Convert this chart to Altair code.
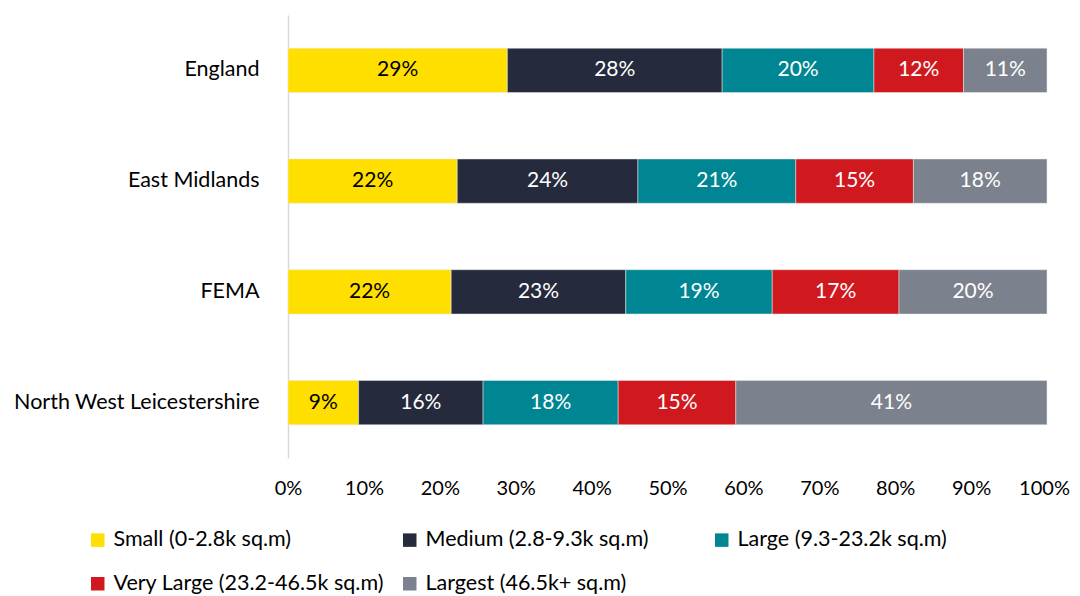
import altair as alt
import pandas as pd

regions = ["England", "East Midlands", "FEMA", "North West Leicestershire"]
sizes = [
    "Small (0-2.8k sq.m)",
    "Medium (2.8-9.3k sq.m)",
    "Large (9.3-23.2k sq.m)",
    "Very Large (23.2-46.5k sq.m)",
    "Largest (46.5k+ sq.m)",
]
colors = ["#FFDF00", "#262A3D", "#008693", "#D0191F", "#7C828D"]

# estimated segment shares (%) per region
small = [28.9, 22.3, 21.5, 9.3]
medium = [28.3, 23.8, 23.0, 16.4]
large = [20.0, 20.8, 19.3, 17.8]
very_large = [11.8, 15.5, 16.7, 15.5]
largest = [11.0, 17.6, 19.5, 41.0]

# printed labels (%)
small_lbl = [29, 22, 22, 9]
medium_lbl = [28, 24, 23, 16]
large_lbl = [20, 21, 19, 18]
very_large_lbl = [12, 15, 17, 15]
largest_lbl = [11, 18, 20, 41]

series = [small, medium, large, very_large, largest]
labels = [small_lbl, medium_lbl, large_lbl, very_large_lbl, largest_lbl]

rows = []
for si, (s, vals, lbls) in enumerate(zip(sizes, series, labels)):
    for r, v, l in zip(regions, vals, lbls):
        rows.append({"region": r, "size": s, "idx": si, "value": v, "label": f"{l}%"})
df = pd.DataFrame(rows)

FONT = "Lato"
FS = 21.5

y_enc = alt.Y(
    "region:N",
    sort=regions,
    title=None,
    scale=alt.Scale(paddingInner=0.6, paddingOuter=0.3),
    axis=alt.Axis(
        ticks=False,
        domainColor="#D9D9D9",
        domainWidth=1.5,
        labelFont=FONT,
        labelFontSize=FS,
        labelFontWeight="normal",
        labelColor="#000000",
        labelPadding=29,
        labelLimit=0,
        minExtent=280,
        maxExtent=280,
    ),
)

bars = alt.Chart(df).mark_bar(stroke="#E8E8E8", strokeWidth=0.5).encode(
    x=alt.X(
        "value:Q",
        stack="zero",
        scale=alt.Scale(domain=[0, 100], nice=False),
        title=None,
        axis=alt.Axis(
            values=list(range(0, 101, 10)),
            labelExpr="datum.value + '%'",
            grid=False,
            ticks=False,
            domain=False,
            labelFlush=False,
            labelOverlap=False,
            labelFont=FONT,
            labelFontSize=20,
            labelColor="#000000",
            labelPadding=20,
            labelOffset={"condition": {"test": "datum.value == 100", "value": -3}, "value": 0},
        ),
    ),
    y=y_enc,
    color=alt.Color(
        "size:N",
        sort=sizes,
        scale=alt.Scale(domain=sizes, range=colors),
        legend=alt.Legend(
            title=None,
            orient="none",
            legendX=-201,
            legendY=514,
            direction="horizontal",
            columns=3,
            gridAlign="all",
            columnPadding=15,
            rowPadding=21,
            symbolType="square",
            symbolSize=182,
            symbolStrokeWidth=0,
            labelFont=FONT,
            labelFontSize=FS,
            labelColor="#000000",
            labelOffset=5,
            labelLimit=0,
        ),
    ),
    order=alt.Order("idx:Q"),
)

text = (
    alt.Chart(df)
    .transform_window(
        cum="sum(value)",
        groupby=["region"],
        sort=[alt.SortField("idx")],
        frame=[None, 0],
    )
    .transform_calculate(mid="datum.cum - datum.value / 2")
    .mark_text(font=FONT, fontSize=21, baseline="middle", align="center")
    .encode(
        x=alt.X("mid:Q", scale=alt.Scale(domain=[0, 100], nice=False)),
        y=alt.Y("region:N", sort=regions),
        text="label:N",
        color=alt.condition(
            alt.datum.idx == 0, alt.value("#000000"), alt.value("#FFFFFF")
        ),
    )
)

chart = (
    alt.layer(bars, text)
    .properties(
        width=759,
        height=443,
        padding={"left": 280, "top": 7, "right": 25, "bottom": 138},
        autosize=alt.AutoSizeParams(type="none"),
        background="#FFFFFF",
    )
    .configure_view(stroke=None)
)

chart.save("out.html", embed_options={"renderer": "svg", "actions": False})
